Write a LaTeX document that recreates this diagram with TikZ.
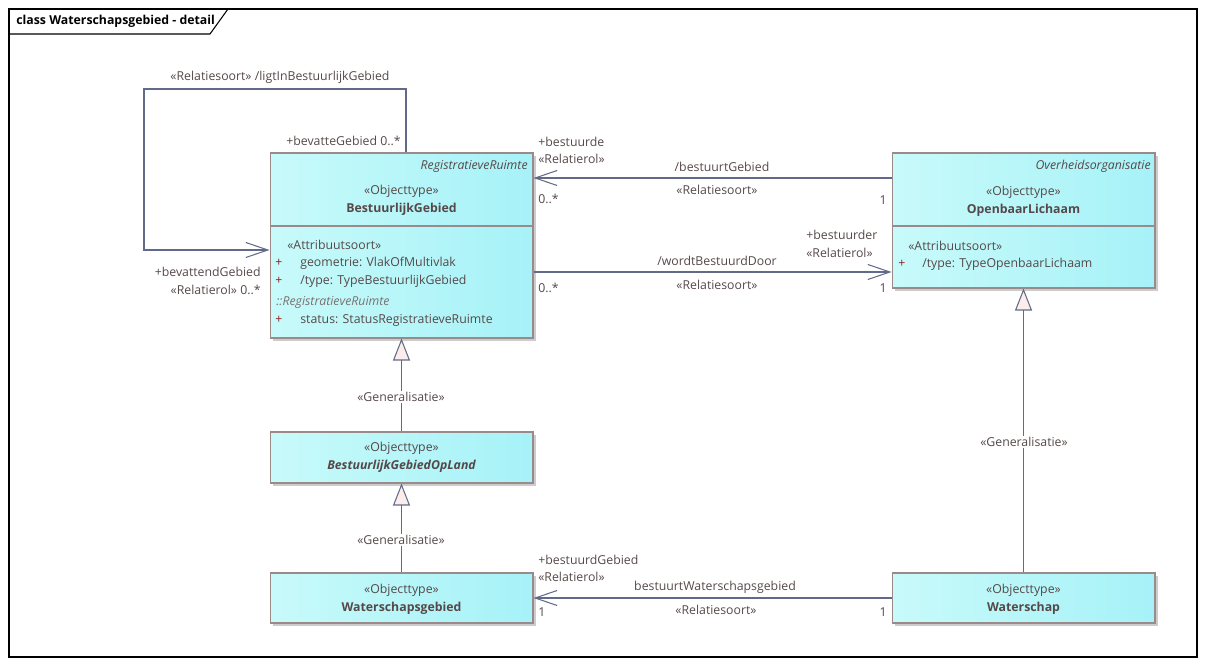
\documentclass[tikz,border=0pt]{standalone}
\usepackage{fontspec}
\setmainfont{Open Sans}
\usetikzlibrary{arrows.meta,shadows}
\definecolor{lijn}{HTML}{626A8A}
\definecolor{rand}{HTML}{9C8A8A}
\definecolor{vulL}{HTML}{C8FAFA}
\definecolor{vulR}{HTML}{A6F2F8}
\definecolor{tekst}{HTML}{564848}
\definecolor{plus}{HTML}{8A2020}
\definecolor{grijs}{HTML}{7A7070}
\definecolor{driehoek}{HTML}{FBEEEA}
\newcommand{\lettertje}{\fontsize{7}{8.4}\selectfont}
\tikzset{
  klasse/.style={draw=rand, line width=0.6pt, left color=vulL, right color=vulR,
    minimum width=5.26cm, inner sep=0pt,
    drop shadow={opacity=1, fill=black!20, shadow xshift=0.06cm, shadow yshift=-0.06cm}},
  lbl/.style={inner sep=0pt, text=tekst, font=\lettertje},
  assoc/.style={draw=lijn, line width=0.6pt,
    -{Straight Barb[length=0.44cm, width=0.3cm, line width=0.6pt]}},
  gen/.style={draw=lijn, line width=0.6pt,
    -{Triangle[length=0.44cm, width=0.34cm, fill=driehoek, line width=0.6pt]}}
}
\begin{document}
\begin{tikzpicture}[x=0.02cm,y=-0.02cm]
\useasboundingbox (0,0) rectangle (1207,665);

% kader
\draw[line width=0.6pt] (9,9) rectangle (1197,657);
\draw[line width=0.6pt] (9,34) -- (210,34) -- (228,9);
\node (titel) [lbl, text=black, anchor=west, font=\lettertje\bfseries] at (16,21) {class Waterschapsgebied - detail};

% klassen
\node (bg) [klasse, minimum height=3.7cm] at (401.5,245.5) {};
\node (ol) [klasse, minimum height=2.7cm] at (1023.5,220.5) {};
\node (bgol) [klasse, minimum height=1.02cm] at (401.5,457.5) {};
\node (wg) [klasse, minimum height=1cm] at (401.5,598) {};
\node (w) [klasse, minimum height=1cm] at (1023.5,598) {};

\coordinate (d1) at (0,226);
\draw[rand, line width=0.6pt] (bg.west |- d1) -- (bg.east |- d1);
\draw[rand, line width=0.6pt] (ol.west |- d1) -- (ol.east |- d1);

% BestuurlijkGebied
\node (bgsuper) [lbl, anchor=east, font=\lettertje\itshape] at (528,166) {RegistratieveRuimte};
\node (bgst) [lbl] at (401.5,191) {«Objecttype»};
\node (bgnaam) [lbl, font=\lettertje\bfseries] at (401.5,209) {BestuurlijkGebied};
\node (bgat) [lbl, anchor=west] at (287,245) {«Attribuutsoort»};
\node (bgp1) [lbl, text=plus] at (279,263) {+};
\node (bga1) [lbl, anchor=west] at (300,263) {geometrie: VlakOfMultivlak};
\node (bgp2) [lbl, text=plus] at (279,281) {+};
\node (bga2) [lbl, anchor=west] at (300,281) {/type: TypeBestuurlijkGebied};
\node (bgerf) [lbl, anchor=west, text=grijs, font=\lettertje\itshape] at (276,302) {::RegistratieveRuimte};
\node (bgp3) [lbl, text=plus] at (279,320) {+};
\node (bga3) [lbl, anchor=west] at (300,320) {status: StatusRegistratieveRuimte};

% OpenbaarLichaam
\node (olsuper) [lbl, anchor=east, font=\lettertje\itshape] at (1151,166) {Overheidsorganisatie};
\node (olst) [lbl] at (1023.5,192) {«Objecttype»};
\node (olnaam) [lbl, font=\lettertje\bfseries] at (1023.5,210) {OpenbaarLichaam};
\node (olat) [lbl, anchor=west] at (908,246) {«Attribuutsoort»};
\node (olp1) [lbl, text=plus] at (902,264) {+};
\node (ola1) [lbl, anchor=west] at (922,264) {/type: TypeOpenbaarLichaam};

% overige klassen
\node (bgolst) [lbl] at (401.5,448) {«Objecttype»};
\node (bgolnaam) [lbl, font=\lettertje\bfseries\itshape] at (401.5,466) {BestuurlijkGebiedOpLand};
\node (wgst) [lbl] at (401.5,590) {«Objecttype»};
\node (wgnaam) [lbl, font=\lettertje\bfseries] at (401.5,608) {Waterschapsgebied};
\node (wst) [lbl] at (1023.5,590) {«Objecttype»};
\node (wnaam) [lbl, font=\lettertje\bfseries] at (1023.5,608) {Waterschap};

% relaties
\coordinate (lusboven) at (406,89);
\coordinate (luslinks) at (144,250);
\draw[assoc] (bg.north -| lusboven) -- (lusboven) -| (luslinks) -- (bg.west |- luslinks);
\coordinate (r1) at (0,178);
\draw[assoc] (ol.west |- r1) -- (bg.east |- r1);
\coordinate (r2) at (0,272);
\draw[assoc] (bg.east |- r2) -- (ol.west |- r2);
\coordinate (r3) at (0,598);
\draw[assoc] (w.west |- r3) -- (wg.east |- r3);

\draw[gen] (bgol.north) -- (bg.south);
\draw[gen] (wg.north) -- (bgol.south);
\draw[gen] (w.north) -- (ol.south);

% labels
\node (l1) [lbl] at (280,77) {«Relatiesoort» /ligtInBestuurlijkGebied};
\node (l2) [lbl, anchor=east] at (401,141) {+bevatteGebied 0..*};
\node (l3) [lbl, anchor=east] at (261,272) {+bevattendGebied};
\node (l4) [lbl, anchor=east] at (261,290) {«Relatierol» 0..*};

\node (l5) [lbl, anchor=west] at (538,142) {+bestuurde};
\node (l6) [lbl, anchor=west] at (538,159) {«Relatierol»};
\node (l7) [lbl, anchor=west] at (538,199) {0..*};
\node (l8) [lbl] at (722,167) {/bestuurtGebied};
\node (l9) [lbl] at (717,190) {«Relatiesoort»};
\node (l10) [lbl, anchor=east] at (887,200) {1};

\node (l11) [lbl, anchor=west] at (806,235) {+bestuurder};
\node (l12) [lbl, anchor=west] at (806,253) {«Relatierol»};
\node (l13) [lbl] at (717,261) {/wordtBestuurdDoor};
\node (l14) [lbl] at (717,285) {«Relatiesoort»};
\node (l15) [lbl, anchor=west] at (538,288) {0..*};
\node (l16) [lbl, anchor=east] at (887,288) {1};

\node (g1) [lbl, fill=white, inner sep=1pt] at (401,397) {«Generalisatie»};
\node (g2) [lbl, fill=white, inner sep=1pt] at (401,540) {«Generalisatie»};
\node (g3) [lbl, fill=white, inner sep=1pt] at (1024,442) {«Generalisatie»};

\node (l17) [lbl, anchor=west] at (538,560) {+bestuurdGebied};
\node (l18) [lbl, anchor=west] at (538,577) {«Relatierol»};
\node (l19) [lbl] at (715,587) {bestuurtWaterschapsgebied};
\node (l20) [lbl] at (716,610) {«Relatiesoort»};
\node (l21) [lbl, anchor=west] at (538,612) {1};
\node (l22) [lbl, anchor=east] at (887,612) {1};
\end{tikzpicture}
\end{document}
